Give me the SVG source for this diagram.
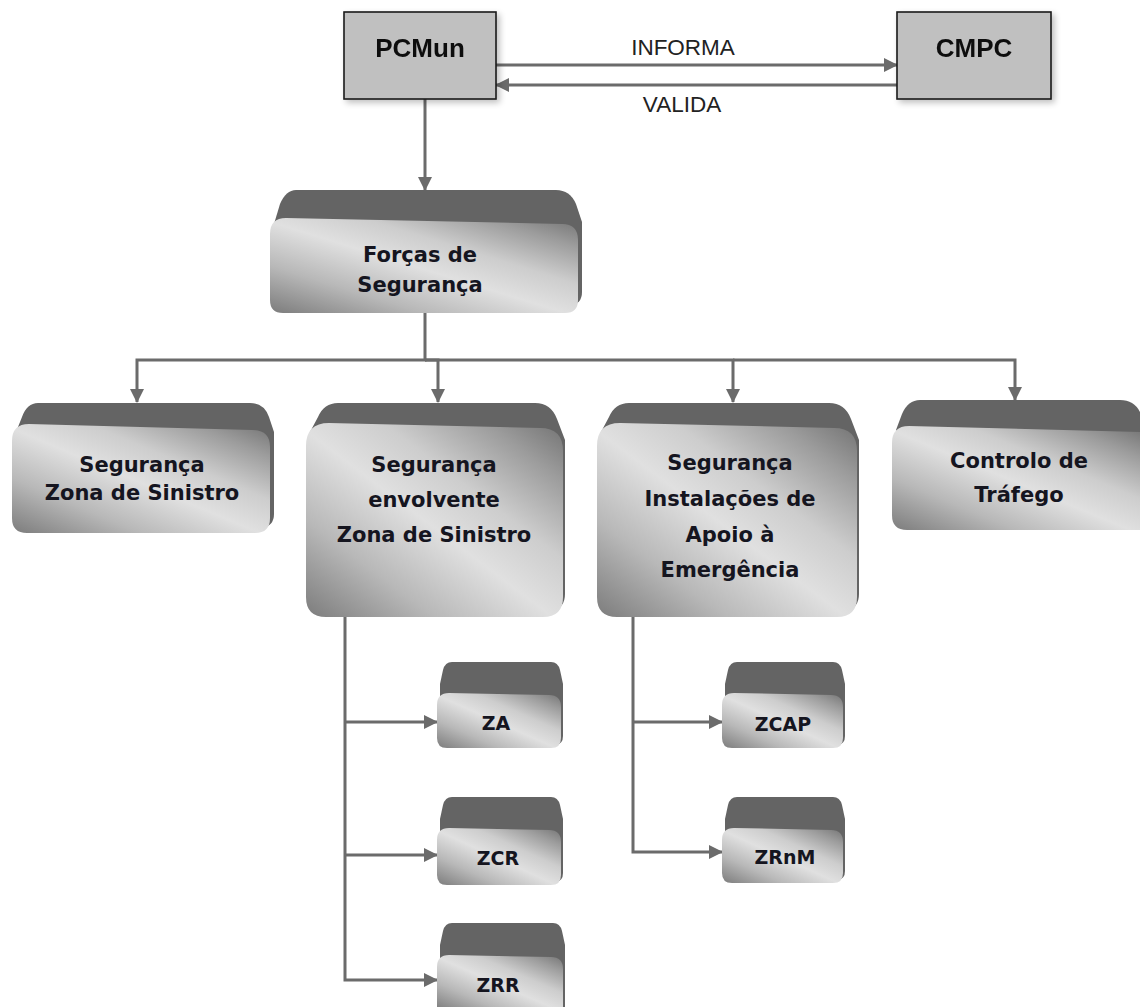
<svg xmlns="http://www.w3.org/2000/svg" width="1140" height="1007" viewBox="0 0 1140 1007">
  <style>
    .flat { fill: #c0c0c0; stroke: #1a1a1a; stroke-width: 1.6; }
    .flat-t { font-family: "Liberation Sans", Arial, sans-serif; font-weight: bold; font-size: 26px; fill: #111; text-anchor: middle; }
    .lbl { font-family: "Liberation Sans", Arial, sans-serif; font-size: 22.5px; fill: #222; text-anchor: middle; }
    .back { fill: #646464; }
    .front { fill: url(#metal); }
    .nt { font-family: "DejaVu Sans", "Liberation Sans", sans-serif; font-weight: bold; font-size: 21px; fill: #15151f; text-anchor: middle; }
    .st { font-family: "DejaVu Sans", "Liberation Sans", sans-serif; font-weight: bold; font-size: 19px; fill: #15151f; text-anchor: middle; }
    .wire { fill: none; stroke: #6b6b6b; stroke-width: 3; }
    .arrow { marker-end: url(#head); }
  </style>
  <defs>
    <marker id="head" markerUnits="userSpaceOnUse" markerWidth="14" markerHeight="14" viewBox="0 0 14 14" refX="13" refY="7" orient="auto">
      <path d="M0,0 L14,7 L0,14 Z" fill="#6b6b6b"/>
    </marker>
    <linearGradient id="metal" x1="0" y1="1" x2="1" y2="0">
      <stop offset="0" stop-color="#7c7c7c"/>
      <stop offset="0.25" stop-color="#b8b8b8"/>
      <stop offset="0.48" stop-color="#e0e0e0"/>
      <stop offset="0.65" stop-color="#cdcdcd"/>
      <stop offset="0.85" stop-color="#9c9c9c"/>
      <stop offset="1" stop-color="#727272"/>
    </linearGradient>
    <filter id="soft" x="-10%" y="-10%" width="130%" height="130%">
      <feGaussianBlur in="SourceAlpha" stdDeviation="3"/>
      <feOffset dx="3" dy="3"/>
      <feComponentTransfer><feFuncA type="linear" slope="0.25"/></feComponentTransfer>
      <feMerge><feMergeNode/><feMergeNode in="SourceGraphic"/></feMerge>
    </filter>
  </defs>

  <!-- connectors -->
  <g id="connectors">
    <path class="wire arrow" d="M496,65 H897"/>
    <path class="wire arrow" d="M897,85 H496"/>
    <path class="wire arrow" d="M425,99 V190"/>
    <path class="wire arrow" d="M425,313 V360 H137 V402"/>
    <path class="wire arrow" d="M425,360 H438 V402"/>
    <path class="wire arrow" d="M425,360 H733 V402"/>
    <path class="wire arrow" d="M733,360 H1015 V400"/>
    <path class="wire arrow" d="M345,617 V980 H437"/>
    <path class="wire arrow" d="M345,722 H437"/>
    <path class="wire arrow" d="M345,855 H437"/>
    <path class="wire arrow" d="M633,617 V852 H722"/>
    <path class="wire arrow" d="M633,722 H722"/>
    <text class="lbl" x="683" y="55">INFORMA</text>
    <text class="lbl" x="682" y="112">VALIDA</text>
  </g>

  <!-- top level -->
  <g id="pcmun" filter="url(#soft)">
    <rect class="flat" x="344" y="12" width="152" height="87"/>
    <text class="flat-t" x="420" y="57">PCMun</text>
  </g>
  <g id="cmpc" filter="url(#soft)">
    <rect class="flat" x="897" y="12" width="154" height="87"/>
    <text class="flat-t" x="974" y="57">CMPC</text>
  </g>

  <!-- Forças de Segurança: x 270-580, y 190-313 -->
  <g id="forcas">
    <path class="back" d="M296,190 L556,190 Q570,190 576,204 L582,222 L582,292 Q582,304 570,306 L274,300 L274,224 L280,204 Q286,190 296,190 Z"/>
    <path class="front" d="M270,234 Q270,218 286,218 L562,224 Q578,224 578,240 L578,300 Q578,313 565,313 L283,313 Q270,313 270,300 Z"/>
    <text class="nt" x="420" y="262">Forças de</text>
    <text class="nt" x="420" y="292">Segurança</text>
  </g>

  <!-- second level -->
  <g id="seg-zona">
    <path class="back" d="M38,403 L250,403 Q264,403 269,417 L274,432 L274,514 Q274,526 262,528 L16,520 L16,432 L22,417 Q27,403 38,403 Z"/>
    <path class="front" d="M12,441 Q12,424 29,424 L252,430 Q270,430 270,447 L270,518 Q270,533 255,533 L27,533 Q12,533 12,518 Z"/>
    <text class="nt" x="142" y="472">Segurança</text>
    <text class="nt" x="142" y="500">Zona de Sinistro</text>
  </g>

  <g id="seg-envolvente">
    <path class="back" d="M338,403 L535,403 Q551,403 557,419 L565,440 L565,594 Q565,608 552,611 L310,600 L310,432 L318,417 Q324,403 338,403 Z"/>
    <path class="front" d="M306,446 Q306,423 329,423 L540,428 Q563,428 563,451 L563,597 Q563,617 543,617 L326,617 Q306,617 306,597 Z"/>
    <text class="nt" x="434" y="472">Segurança</text>
    <text class="nt" x="434" y="507">envolvente</text>
    <text class="nt" x="434" y="542">Zona de Sinistro</text>
  </g>

  <g id="seg-instalacoes">
    <path class="back" d="M629,403 L829,403 Q845,403 851,419 L859,440 L859,594 Q859,608 846,611 L601,600 L601,432 L609,417 Q615,403 629,403 Z"/>
    <path class="front" d="M597,446 Q597,423 620,423 L834,428 Q857,428 857,451 L857,597 Q857,617 837,617 L617,617 Q597,617 597,597 Z"/>
    <text class="nt" x="730" y="470">Segurança</text>
    <text class="nt" x="730" y="506">Instalações de</text>
    <text class="nt" x="730" y="542">Apoio à</text>
    <text class="nt" x="730" y="577">Emergência</text>
  </g>

  <g id="controlo-trafego">
    <path class="back" d="M920,400 L1120,400 Q1134,400 1140,412 L1140,520 L896,520 L896,430 L902,414 Q908,400 920,400 Z"/>
    <path class="front" d="M892,443 Q892,426 909,426 L1140,432 L1140,530 L907,530 Q892,530 892,515 Z"/>
    <text class="nt" x="1019" y="468">Controlo de</text>
    <text class="nt" x="1019" y="502">Tráfego</text>
  </g>

  <!-- third level -->
  <g id="za">
    <path class="back" d="M452,662 L551,662 Q558,662 560,670 L563,684 L563,736 Q563,744 556,745 L440,740 L440,684 L443,670 Q445,662 452,662 Z"/>
    <path class="front" d="M437,705 Q437,693 449,693 L549,695 Q561,695 561,707 L561,738 Q561,748 551,748 L447,748 Q437,748 437,738 Z"/>
    <text class="st" x="496" y="730">ZA</text>
  </g>
  <g id="zcr">
    <path class="back" d="M452,797 L551,797 Q558,797 560,805 L563,819 L563,873 Q563,881 556,882 L440,877 L440,819 L443,805 Q445,797 452,797 Z"/>
    <path class="front" d="M437,840 Q437,828 449,828 L549,830 Q561,830 561,842 L561,875 Q561,885 551,885 L447,885 Q437,885 437,875 Z"/>
    <text class="st" x="498" y="865">ZCR</text>
  </g>
  <g id="zrr">
    <path class="back" d="M452,923 L553,923 Q560,923 562,931 L565,945 L565,1007 L440,1007 L440,945 L443,931 Q445,923 452,923 Z"/>
    <path class="front" d="M437,967 Q437,955 449,955 L551,957 Q563,957 563,969 L563,1010 L437,1010 Z"/>
    <text class="st" x="498" y="992">ZRR</text>
  </g>
  <g id="zcap">
    <path class="back" d="M737,662 L833,662 Q840,662 842,670 L845,684 L845,736 Q845,744 838,745 L725,740 L725,684 L728,670 Q730,662 737,662 Z"/>
    <path class="front" d="M722,705 Q722,693 734,693 L831,695 Q843,695 843,707 L843,738 Q843,748 833,748 L732,748 Q722,748 722,738 Z"/>
    <text class="st" x="783" y="731">ZCAP</text>
  </g>
  <g id="zrnm">
    <path class="back" d="M737,797 L833,797 Q840,797 842,805 L845,819 L845,871 Q845,879 838,880 L725,875 L725,819 L728,805 Q730,797 737,797 Z"/>
    <path class="front" d="M722,840 Q722,828 734,828 L831,830 Q843,830 843,842 L843,873 Q843,883 833,883 L732,883 Q722,883 722,873 Z"/>
    <text class="st" x="785" y="864">ZRnM</text>
  </g>
</svg>
